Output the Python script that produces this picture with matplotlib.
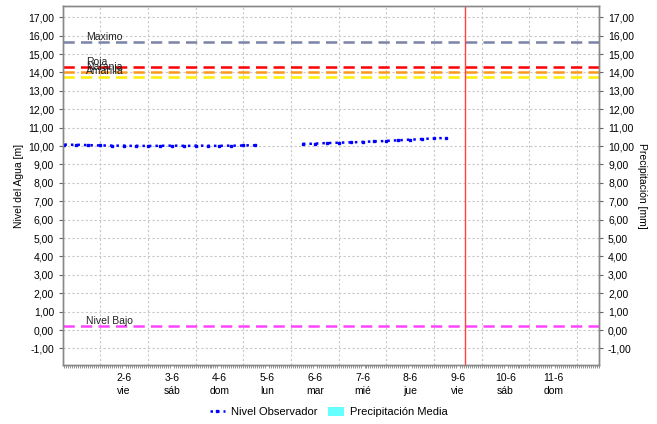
import matplotlib
matplotlib.use("Agg")
from matplotlib import pyplot as plt
from matplotlib.ticker import FuncFormatter
from matplotlib.lines import Line2D
from matplotlib.patches import Patch

plt.rcParams['font.family'] = ['Liberation Sans', 'DejaVu Sans']

# water level, time in days of June (3-hourly readings)
t1 = [0.750, 0.875, 1.000, 1.125, 1.250, 1.375, 1.500, 1.625, 1.750, 1.875,
      2.000, 2.125, 2.250, 2.375, 2.500, 2.625, 2.750, 2.875, 3.000, 3.125,
      3.250, 3.375, 3.500, 3.625, 3.750, 3.875, 4.000, 4.125, 4.250, 4.375,
      4.500, 4.625, 4.750]
nivel1 = [10.08, 10.07, 10.07, 10.06, 10.05, 10.04, 10.03, 10.03, 10.02, 10.02,
          10.02, 10.01, 10.01, 10.01, 10.00, 10.01, 10.01, 10.02, 10.02, 10.02,
          10.01, 10.01, 10.02, 10.02, 10.01, 10.01, 10.01, 10.02, 10.02, 10.02,
          10.03, 10.04, 10.03]
t2 = [5.750, 5.875, 6.000, 6.125, 6.250, 6.375, 6.500, 6.625, 6.750, 6.875,
      7.000, 7.125, 7.250, 7.375, 7.500, 7.625, 7.750, 7.875, 8.000, 8.125,
      8.250, 8.375, 8.500, 8.625, 8.750]
nivel2 = [10.12, 10.12, 10.13, 10.15, 10.16, 10.17, 10.18, 10.19, 10.20, 10.21,
          10.22, 10.24, 10.25, 10.26, 10.28, 10.30, 10.31, 10.33, 10.35, 10.36,
          10.38, 10.40, 10.41, 10.43, 10.42]

# alert thresholds
umbral_nombres = ['Maximo', 'Roja', 'Naranja', 'Amarilla', 'Nivel Bajo']
umbral_valores = [15.64, 14.30, 14.02, 13.76, 0.20]
umbral_colores = ['#7b83a8', '#ff0000', '#ff9a1f', '#ffee00', '#ff44ff']

dias = [2, 3, 4, 5, 6, 7, 8, 9, 10, 11]
dias_sem = ['vie', 'sáb', 'dom', 'lun', 'mar', 'mié', 'jue', 'vie', 'sáb', 'dom']
ahora = 9.15

fig = plt.figure(figsize=(6.57, 4.24), dpi=100)
ax = fig.add_axes([0.0959, 0.1392, 0.8158, 0.8466])

for x in [d + 0.5 for d in range(1, 12)]:
    ax.axvline(x, color='#c8c8c8', lw=0.8, ls=(0, (2, 2)), zorder=0)
for y in range(-1, 18):
    ax.axhline(y, color='#c8c8c8', lw=0.8, ls=(0, (2, 2)), zorder=0)

for nombre, val, col in zip(umbral_nombres, umbral_valores, umbral_colores):
    ax.axhline(val, color=col, lw=1.8, dashes=(4.5, 2.5), zorder=2)
    ax.text(1.2, val + 0.02, nombre, fontsize=7.5, color='#222222',
            va='bottom', ha='left', zorder=3)

ax.axvline(ahora, color='#ff4040', lw=1.0, zorder=3)

for t, v in [(t1, nivel1), (t2, nivel2)]:
    ax.plot(t, v, color='#0000ff', lw=1.8, ls=(0, (1.0, 1.6)),
            marker='s', markersize=2.1, markevery=2, zorder=4)

ax.set_xlim(0.72, 11.78)
ax.set_ylim(-1.9, 17.61)
ax.set_yticks(range(-1, 18))
fmt = FuncFormatter(lambda v, p: f"{v:.2f}".replace('.', ','))
ax.yaxis.set_major_formatter(fmt)
ax.set_xticks(dias)
ax.set_xticklabels([f"{d}-6\n{s}" for d, s in zip(dias, dias_sem)], fontsize=7.5,
                   linespacing=1.3)
ax.set_xticks([i / 24 for i in range(18, 24 * 12)], minor=True)
ax.tick_params(axis='x', which='major', length=0, pad=6)
ax.tick_params(axis='x', which='minor', length=2, color='#666666', width=0.5)
ax.tick_params(axis='y', labelsize=7.5, length=3, color='#666666')
ax.set_ylabel('Nivel del Agua [m]', fontsize=7.5, labelpad=3)

ax2 = ax.twinx()
ax2.set_ylim(ax.get_ylim())
ax2.set_yticks(range(-1, 18))
ax2.yaxis.set_major_formatter(fmt)
ax2.tick_params(axis='y', labelsize=7.5, length=3, color='#666666')
ax2.set_ylabel('Precipitación [mm]', fontsize=7.5, rotation=-90, labelpad=9)

for a in (ax, ax2):
    for s in a.spines.values():
        s.set_color('#888888')
        s.set_linewidth(1.0)

handles = [Line2D([], [], color='#0000ff', lw=1.8, ls=(0, (1.0, 1.6)),
                  marker='s', markersize=2.1),
           Patch(facecolor='#66ffff', edgecolor='none')]
fig.legend(handles, ['Nivel Observador', 'Precipitación Media'],
           loc='center', bbox_to_anchor=(0.5, 0.028), ncol=2, frameon=False,
           fontsize=8, handlelength=1.4, handleheight=0.9, columnspacing=1.0,
           handletextpad=0.5)

fig.savefig('out.png', dpi=100)
